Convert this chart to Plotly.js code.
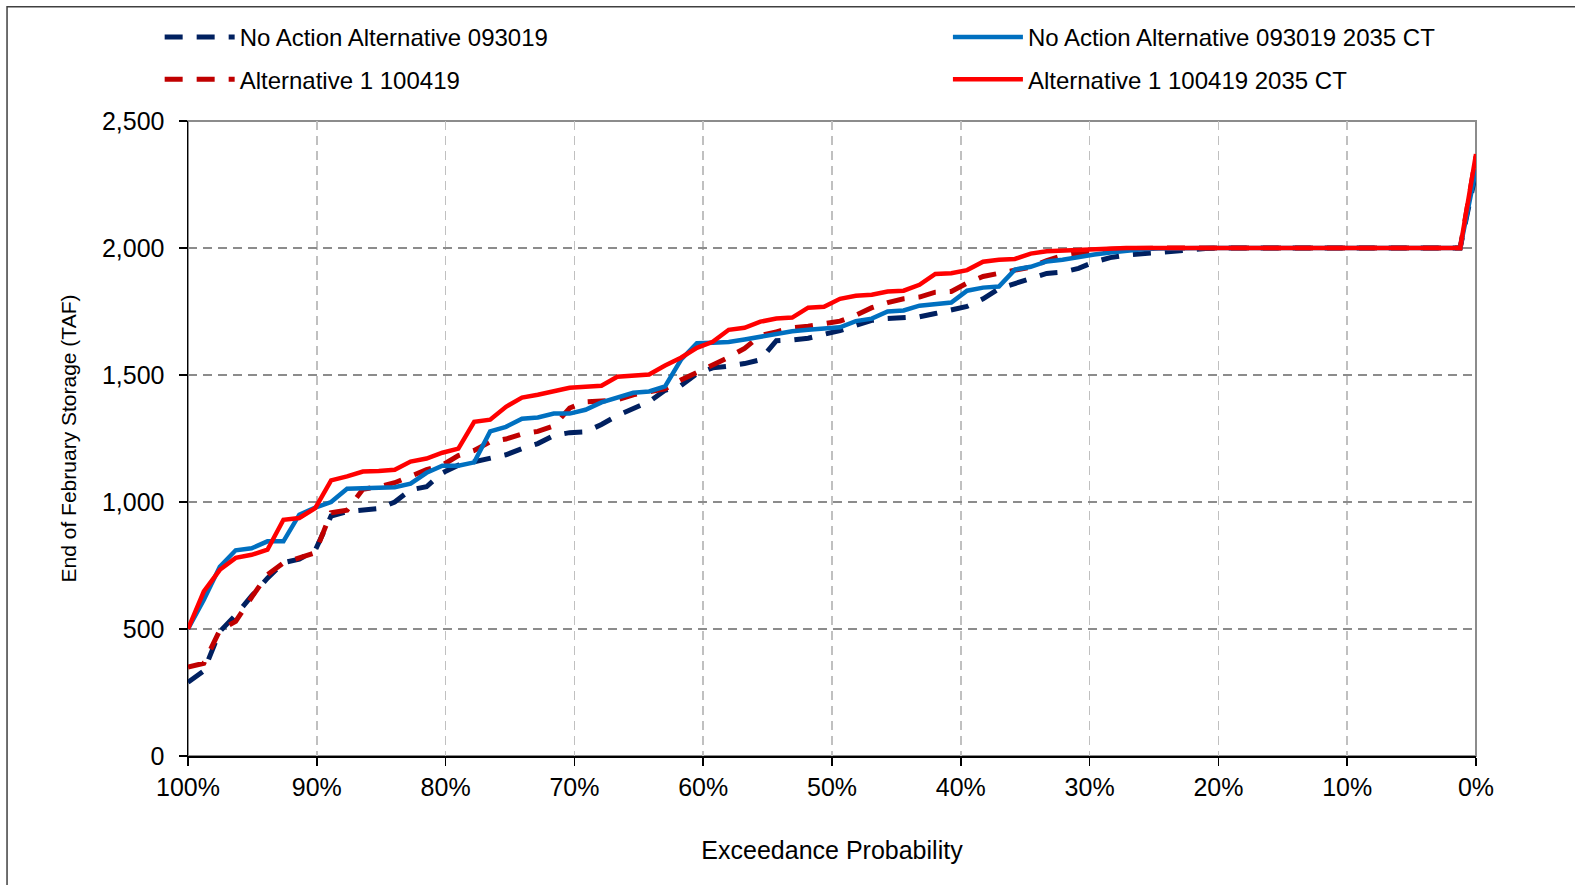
<!DOCTYPE html>
<html>
<head>
<meta charset="utf-8">
<script src="https://cdn.plot.ly/plotly-3.0.1.min.js"></script>
<style>
  html, body { margin: 0; padding: 0; background: #ffffff; }
  #chart { width: 1575px; height: 885px; }
</style>
</head>
<body>
<div id="chart"></div>
<script>
// Exceedance probability (%) of each ranked year
const exceedance = [100, 98.77, 97.53, 96.30, 95.06, 93.83, 92.59, 91.36, 90.12, 88.89,
  87.65, 86.42, 85.19, 83.95, 82.72, 81.48, 80.25, 79.01, 77.78, 76.54,
  75.31, 74.07, 72.84, 71.60, 70.37, 69.14, 67.90, 66.67, 65.43, 64.20,
  62.96, 61.73, 60.49, 59.26, 58.02, 56.79, 55.56, 54.32, 53.09, 51.85,
  50.62, 49.38, 48.15, 46.91, 45.68, 44.44, 43.21, 41.98, 40.74, 39.51,
  38.27, 37.04, 35.80, 34.57, 33.33, 32.10, 30.86, 29.63, 28.40, 27.16,
  25.93, 24.69, 23.46, 22.22, 20.99, 19.75, 18.52, 17.28, 16.05, 14.81,
  13.58, 12.35, 11.11, 9.88, 8.64, 7.41, 6.17, 4.94, 3.70, 2.47, 1.23, 0];

// End of February storage (TAF)
const noAction093019 = [290, 335, 490, 555, 630, 700, 761, 775, 810, 945,
  962, 970, 974, 1000, 1048, 1060, 1115, 1145, 1160, 1172,
  1186, 1210, 1230, 1262, 1273, 1276, 1305, 1340, 1365, 1395,
  1440, 1458, 1505, 1528, 1535, 1545, 1560, 1635, 1638, 1645,
  1660, 1675, 1695, 1715, 1722, 1725, 1729, 1742, 1755, 1770,
  1800, 1840, 1860, 1880, 1900, 1905, 1920, 1945, 1962, 1972,
  1978, 1984, 1990, 1995, 1998, 2000, 2000, 2000, 2000, 2000,
  2000, 2000, 2000, 2000, 2000, 2000, 2000, 2000, 2000, 2000, 2000, 2300];

const alt1_100419 = [350, 365, 495, 530, 625, 714, 760, 782, 800, 958,
  968, 1050, 1060, 1076, 1100, 1127, 1145, 1183, 1203, 1237,
  1248, 1268, 1278, 1300, 1370, 1394, 1398, 1402, 1422, 1432,
  1445, 1480, 1510, 1535, 1570, 1605, 1655, 1670, 1686, 1692,
  1700, 1712, 1735, 1765, 1785, 1800, 1807, 1826, 1829, 1862,
  1888, 1900, 1908, 1925, 1950, 1970, 1980, 1990, 1995, 1998,
  2000, 2000, 2000, 2000, 2000, 2000, 2000, 2000, 2000, 2000,
  2000, 2000, 2000, 2000, 2000, 2000, 2000, 2000, 2000, 2000, 2000, 2360];

const noAction093019CT = [500, 615, 745, 810, 818, 845, 845, 950, 978, 1000,
  1052, 1055, 1056, 1058, 1072, 1115, 1143, 1143, 1156, 1278,
  1296, 1328, 1333, 1348, 1348, 1363, 1392, 1410, 1430, 1435,
  1455, 1560, 1625, 1627, 1630, 1640, 1652, 1663, 1672, 1678,
  1682, 1688, 1712, 1722, 1750, 1754, 1773, 1777, 1785, 1832,
  1844, 1848, 1915, 1926, 1947, 1954, 1966, 1974, 1982, 1990,
  1995, 1998, 2000, 2000, 2000, 2000, 2000, 2000, 2000, 2000,
  2000, 2000, 2000, 2000, 2000, 2000, 2000, 2000, 2000, 2000, 2000, 2310];

const alt1_100419CT = [500, 648, 733, 780, 792, 812, 930, 937, 976, 1085,
  1101, 1120, 1122, 1127, 1159, 1171, 1194, 1210, 1316, 1324,
  1375, 1411, 1422, 1438, 1450, 1454, 1458, 1493, 1497, 1502,
  1537, 1568, 1607, 1631, 1678, 1686, 1710, 1722, 1726, 1765,
  1769, 1800, 1812, 1816, 1829, 1832, 1855, 1898, 1901, 1913,
  1946, 1954, 1957, 1978, 1987, 1990, 1994, 1996, 1998, 2000,
  2000, 2000, 2000, 2000, 2000, 2000, 2000, 2000, 2000, 2000,
  2000, 2000, 2000, 2000, 2000, 2000, 2000, 2000, 2000, 2000, 2000, 2370];

const seriesNames = [
  'No Action Alternative 093019',
  'Alternative 1 100419',
  'No Action Alternative 093019 2035 CT',
  'Alternative 1 100419 2035 CT'
];

const xTickVals = [100, 90, 80, 70, 60, 50, 40, 30, 20, 10, 0];
const xTickText = ['100%', '90%', '80%', '70%', '60%', '50%', '40%', '30%', '20%', '10%', '0%'];
const yTickVals = [0, 500, 1000, 1500, 2000, 2500];
const yTickText = ['0', '500', '1,000', '1,500', '2,000', '2,500'];

const FONT = 'Liberation Sans, Arial, sans-serif';

const traces = [
  { x: exceedance, y: noAction093019, name: seriesNames[0], legend: 'legend', legendgroup: 'a',
    line: { color: '#002060', width: 5, dash: '18px,14px' } },
  { x: exceedance, y: alt1_100419, name: seriesNames[1], legend: 'legend', legendgroup: 'b',
    line: { color: '#c00000', width: 5, dash: '18px,14px' } },
  { x: exceedance, y: noAction093019CT, name: seriesNames[2], legend: 'legend2', legendgroup: 'c',
    line: { color: '#0070c0', width: 4.5 } },
  { x: exceedance, y: alt1_100419CT, name: seriesNames[3], legend: 'legend2', legendgroup: 'd',
    line: { color: '#ff0000', width: 4.5 } }
].map(t => Object.assign({ type: 'scatter', mode: 'lines', hoverinfo: 'skip' }, t));

const legendCommon = {
  orientation: 'v',
  xanchor: 'left',
  yanchor: 'top',
  bgcolor: 'rgba(0,0,0,0)',
  font: { family: FONT, size: 24, color: '#000000' },
  itemwidth: 70,
  tracegroupgap: 8
};

const layout = {
  width: 1575,
  height: 885,
  paper_bgcolor: '#ffffff',
  plot_bgcolor: '#ffffff',
  margin: { l: 188, r: 99, t: 121, b: 129 },
  showlegend: true,
  legend: Object.assign({}, legendCommon, { x: -0.022, y: 1.167 }),
  legend2: Object.assign({}, legendCommon, { x: 0.590, y: 1.167 }),
  xaxis: {
    range: [100, 0],
    tickvals: xTickVals,
    ticktext: xTickText,
    ticks: 'outside',
    ticklen: 8,
    tickwidth: 1.5,
    tickcolor: '#000000',
    ticklabelstandoff: 0,
    showline: true,
    linecolor: '#000000',
    linewidth: 1.5,
    showgrid: true,
    gridcolor: '#c0c0c0',
    gridwidth: 1.5,
    griddash: '9px,6px',
    zeroline: false,
    tickfont: { family: FONT, size: 25, color: '#000000' },
    title: { text: 'Exceedance Probability', font: { family: FONT, size: 25, color: '#000000' }, standoff: 42 }
  },
  yaxis: {
    range: [0, 2500],
    tickvals: yTickVals,
    ticktext: yTickText,
    ticks: 'outside',
    ticklen: 8,
    tickwidth: 1.5,
    tickcolor: '#000000',
    ticklabelstandoff: 9,
    showline: true,
    linecolor: '#000000',
    linewidth: 1.5,
    showgrid: true,
    gridcolor: '#8c8c8c',
    gridwidth: 1.5,
    griddash: '9px,6px',
    zeroline: false,
    tickfont: { family: FONT, size: 25, color: '#000000' },
    title: { text: 'End of February Storage (TAF)', font: { family: FONT, size: 21, color: '#000000' }, standoff: 19 }
  },
  shapes: [
    { type: 'rect', xref: 'paper', yref: 'paper', x0: 0, x1: 1, y0: 0, y1: 1,
      line: { color: '#8c8c8c', width: 2 }, layer: 'below' },
    { type: 'rect', xref: 'paper', yref: 'paper', x0: -0.1405, x1: 1.2, y0: -0.3, y1: 1.18,
      line: { color: '#404040', width: 1.5 }, layer: 'below' }
  ]
};

Plotly.newPlot('chart', traces, layout, { displayModeBar: false, staticPlot: true });
</script>
</body>
</html>
